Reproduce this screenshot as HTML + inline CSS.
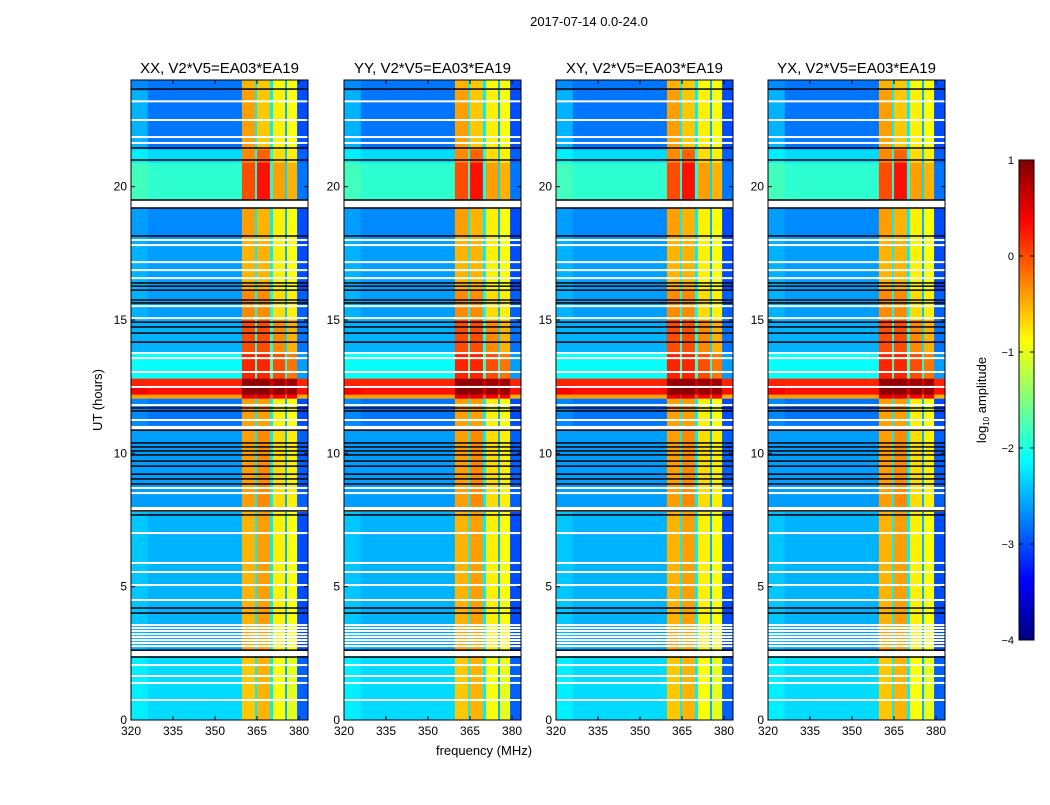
<!DOCTYPE html>
<html><head><meta charset="utf-8"><style>
body{margin:0;background:#fff;}
svg text{font-family:"Liberation Sans",sans-serif;fill:#000;}
</style></head><body>
<svg id="fig" width="1050" height="800" viewBox="0 0 1050 800" xmlns="http://www.w3.org/2000/svg">
<rect width="1050" height="800" fill="#fff"/>
<text x="589" y="26" font-size="13" text-anchor="middle">2017-07-14 0.0-24.0</text>
<text x="0" y="0" font-size="13" text-anchor="middle" transform="translate(102,400) rotate(-90)">UT (hours)</text>
<text x="484" y="755" font-size="13" text-anchor="middle">frequency (MHz)</text>
<g id="panels"></g>
<g id="cbar"></g>
</svg>
<script>
// ---- data ----
const panelTitles = ["XX, V2*V5=EA03*EA19","YY, V2*V5=EA03*EA19","XY, V2*V5=EA03*EA19","YX, V2*V5=EA03*EA19"];
const freqEdges = [320,326,359.6,364.3,365,369.6,370.7,375,375.7,379.3,383.2];
const rowStart = [23.6,21.4,20.9,19.5,18.1,16.1,15.0,13.8,12.8,12.55,12.2,12.05,11.0,8.0,3.6,2.6,0];
const rowEnd   = [24.0,23.6,21.4,20.9,19.2,18.1,16.1,15.0,13.8,12.8,12.55,12.2,12.05,10.9,7.8,3.6,2.4];
const rowValues = [
 [-2.7,-2.8,-0.5,-2.2,-0.6,-2.2,-0.9,-2.5,-0.9,-3.0],
 [-2.5,-2.8,-0.4,-2.2,-0.6,-2.2,-0.8,-2.5,-0.9,-3.0],
 [-2.2,-2.3,-0.3,-2.0,-0.1,-2.0,-0.7,-2.4,-0.8,-2.9],
 [-1.8,-1.9, 0.0,-2.0, 0.3,-2.0,-0.4,-2.3,-0.5,-2.8],
 [-2.6,-2.7,-0.4,-2.2,-0.5,-2.2,-0.8,-2.5,-0.9,-3.0],
 [-2.5,-2.6,-0.5,-2.2,-0.5,-2.2,-0.8,-2.5,-0.9,-3.0],
 [-2.5,-2.6,-0.3,-2.1,-0.3,-2.1,-0.7,-2.4,-0.8,-2.9],
 [-2.5,-2.5, 0.0,-2.0, 0.0,-2.0,-0.3,-2.3,-0.5,-2.8],
 [-2.1,-2.1, 0.2,-1.8, 0.2,-1.8, 0.0,-2.0,-0.2,-2.6],
 [ 0.2, 0.2, 0.9, 0.9, 0.9, 0.6, 0.85,0.5, 0.85,0.2],
 [ 0.4, 0.3, 0.95,0.9, 0.95,0.6, 0.9, 0.5, 0.9, 0.3],
 [-0.4,-0.4, 0.5, 0.3, 0.5, 0.0, 0.4,-0.2, 0.4,-0.5],
 [-2.7,-2.8,-0.4,-2.2,-0.4,-2.2,-0.8,-2.5,-0.9,-3.0],
 [-2.6,-2.6,-0.4,-2.2,-0.3,-2.2,-0.7,-2.5,-0.8,-2.9],
 [-2.4,-2.5,-0.5,-2.2,-0.4,-2.2,-0.8,-2.5,-0.9,-3.0],
 [-2.5,-2.6,-0.4,-2.2,-0.4,-2.2,-0.8,-2.5,-0.9,-3.0],
 [-2.2,-2.3,-0.6,-2.2,-0.5,-2.2,-0.9,-2.5,-1.0,-2.9]
];
const blackLines = [23.66,21.45,21.0,19.5,19.2,18.15,16.39,16.27,16.12,15.75,15.64,14.92,14.74,14.51,14.17,11.7,11.59,10.87,10.39,10.24,10.09,9.94,9.71,9.52,9.22,9.04,8.85,7.84,7.69,4.2,4.01,2.62,2.36];
const whiteLines = [23.2,22.5,21.86,21.64,19.35,18.0,17.81,17.17,16.87,16.57,15.52,15.07,13.76,13.57,13.05,12.49,11.81,11.25,10.99,8.7,8.51,7.9,7.01,5.89,5.55,5.06,4.5,3.56,3.45,3.34,3.22,3.11,3.0,2.89,2.77,2.5,2.06,1.65,1.39,0.75];
const freqTicks = [320,335,350,365,380];
const timeTicks = [0,5,10,15,20];
const cbarTicks = [-4,-3,-2,-1,0,1];

// ---- layout ----
const NS="http://www.w3.org/2000/svg";
const panelLeft=[131,344,556,768], panelW=177, plotTop=80, plotBottom=720;
const vmin=-4, vmax=1;
function jet(v){
  let t=(v-vmin)/(vmax-vmin); t=Math.max(0,Math.min(1,t));
  const c=x=>Math.round(255*Math.max(0,Math.min(1,x)));
  return `rgb(${c(1.5-Math.abs(4*t-3))},${c(1.5-Math.abs(4*t-2))},${c(1.5-Math.abs(4*t-1))})`;
}
function mk(tag,attrs,parent){const e=document.createElementNS(NS,tag);for(const k in attrs)e.setAttribute(k,attrs[k]);parent.appendChild(e);return e;}
const yS=h=>plotBottom-(h/24)*(plotBottom-plotTop);
const panelsG=document.getElementById('panels');
panelTitles.forEach((title,p)=>{
  const x0=panelLeft[p];
  const xS=f=>x0+(f-freqEdges[0])/(freqEdges[freqEdges.length-1]-freqEdges[0])*panelW;
  const g=mk('g',{},panelsG);
  
  
  rowValues.forEach((row,r)=>{
    row.forEach((v,c)=>{
      const x1=xS(freqEdges[c]),x2=xS(freqEdges[c+1]);
      const y1=yS(rowEnd[r]),y2=yS(rowStart[r]);
      const cell=mk('rect',{x:x1,y:y1,width:x2-x1+0.3,height:y2-y1+0.3,fill:jet(v)},g);
      
      
    });
  });
  whiteLines.forEach(h=>{
    const l=mk('rect',{x:x0,y:yS(h)-1,width:panelW,height:2,fill:'#fff'},g);
    
    
  });
  blackLines.forEach(h=>{
    const l=mk('rect',{x:x0,y:yS(h)-0.75,width:panelW,height:1.5,fill:'#000'},g);
    
    
  });
  const fr=mk('rect',{x:x0,y:plotTop,width:panelW,height:plotBottom-plotTop,fill:'none',stroke:'#000','stroke-width':1},g);
  
  
  const tt=mk('text',{x:x0+panelW/2,y:73,'font-size':15,'text-anchor':'middle'},g);
  tt.textContent=title;
  
  
  freqTicks.forEach(f=>{
    const x=xS(f);
    mk('line',{x1:x,x2:x,y1:plotBottom,y2:plotBottom-4,stroke:'#000'},g);
    mk('line',{x1:x,x2:x,y1:plotTop,y2:plotTop+4,stroke:'#000'},g);
    const t=mk('text',{x:x,y:plotBottom+15,'font-size':12,'text-anchor':'middle'},g);
    t.textContent=f;
    
    
  });
  timeTicks.forEach(h=>{
    const y=yS(h);
    mk('line',{x1:x0,x2:x0+4,y1:y,y2:y,stroke:'#000'},g);
    mk('line',{x1:x0+panelW,x2:x0+panelW-4,y1:y,y2:y,stroke:'#000'},g);
    const t=mk('text',{x:x0-4,y:y+4,'font-size':12,'text-anchor':'end'},g);
    t.textContent=h;
    
    
  });
});
// colorbar
const cb=document.getElementById('cbar');


const cbx=1019,cbw=15,cbt=160,cbb=640;
const cy=v=>cbb-(v-vmin)/(vmax-vmin)*(cbb-cbt);
for(let i=0;i<120;i++){
  const v=vmin+(i+0.5)*(vmax-vmin)/120;
  mk('rect',{x:cbx,y:cy(vmin+(i+1)*(vmax-vmin)/120),width:cbw,height:(cbb-cbt)/120+0.5,fill:jet(v)},cb);
}
mk('rect',{x:cbx,y:cbt,width:cbw,height:cbb-cbt,fill:'none',stroke:'#000'},cb);
cbarTicks.forEach(v=>{
  const y=cy(v);
  mk('line',{x1:cbx,x2:cbx+4,y1:y,y2:y,stroke:'#000'},cb);
  mk('line',{x1:cbx+cbw,x2:cbx+cbw-4,y1:y,y2:y,stroke:'#000'},cb);
  const t=mk('text',{x:cbx-5,y:y+4,'font-size':11,'text-anchor':'end'},cb);
  t.textContent=(v<0?'\u2212':'')+Math.abs(v);
  
  
});
const lab=mk('text',{transform:'translate(986,400) rotate(-90)','font-size':13,'text-anchor':'middle'},cb);
lab.innerHTML='log<tspan font-size="8" dy="3">10</tspan><tspan dy="-3"> amplitude</tspan>';


</script>
</body></html>
